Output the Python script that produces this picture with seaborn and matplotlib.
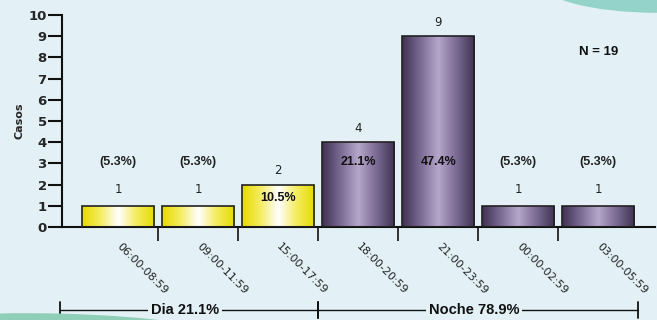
import numpy as np
import pandas as pd
import matplotlib.pyplot as plt
import matplotlib.transforms as mtransforms
from matplotlib.colors import LinearSegmentedColormap
from matplotlib.patches import Ellipse
import seaborn as sns

# Data
periodos = ["06:00-08:59", "09:00-11:59", "15:00-17:59", "18:00-20:59",
            "21:00-23:59", "00:00-02:59", "03:00-05:59"]
casos = [1, 1, 2, 4, 9, 1, 1]
porcentajes = ["(5.3%)", "(5.3%)", "10.5%", "21.1%", "47.4%", "(5.3%)", "(5.3%)"]
turno = ["Dia", "Dia", "Dia", "Noche", "Noche", "Noche", "Noche"]
resumen_turnos = {"Dia": "Dia 21.1%", "Noche": "Noche 78.9%"}
total_n = 19

bg = "#e3f1f7"
df = pd.DataFrame({"periodo": periodos, "casos": casos, "turno": turno})

sns.set_style("white")
plt.rcParams["font.family"] = ["DejaVu Sans"]

fig = plt.figure(figsize=(6.57, 3.2), dpi=100, facecolor=bg)

# decorative swooshes in the background
fig.patches.append(Ellipse((1.0, 1.06), 0.36, 0.2, transform=fig.transFigure,
                           facecolor="#93d3c9", edgecolor="none", zorder=0))
fig.patches.append(Ellipse((0.09, -0.035), 0.48, 0.11, angle=-3, transform=fig.transFigure,
                           facecolor="#8fcfb8", edgecolor="none", zorder=0))

ax = fig.add_axes([0.0944, 0.2906, 0.9026, 0.6624])
ax.set_facecolor("none")

sns.barplot(data=df, x="periodo", y="casos", hue="turno",
            palette={"Dia": "#f0e400", "Noche": "#5a4b70"},
            dodge=False, width=0.9, legend=False, ax=ax,
            edgecolor="#222222", linewidth=1.2)

cmaps = {
    "Dia": LinearSegmentedColormap.from_list("dia", ["#e6da00", "#f4ec60", "#ffffff", "#f4ec60", "#e6da00"]),
    "Noche": LinearSegmentedColormap.from_list("noche", ["#3e3150", "#7a6a92", "#b5a6cb", "#7a6a92", "#3e3150"]),
}
grad = np.linspace(0, 1, 256).reshape(1, -1)

bars = sorted(ax.patches, key=lambda p: p.get_x())
for i, p in enumerate(bars):
    x0, w, h = p.get_x(), p.get_width(), p.get_height()
    im = ax.imshow(grad, extent=[x0, x0 + w, 0, h], aspect="auto",
                   cmap=cmaps[turno[i]], zorder=2, origin="lower")
    im.set_clip_path(p)
    p.set_facecolor("none")
    p.set_zorder(3)

ax.set_xlim(-0.7, 6.71)
ax.set_ylim(0, 10)

# count labels and percentage labels
for i, (c, pct) in enumerate(zip(casos, porcentajes)):
    if c == 1:
        ax.text(i, 1.75, str(c), ha="center", va="center", fontsize=8.5, color="#222222")
        ax.text(i, 3.07, pct, ha="center", va="center", fontsize=9, fontweight="bold",
                family="Liberation Sans", color="#222222")
    else:
        ax.text(i, c + 0.65, str(c), ha="center", va="center", fontsize=8.5, color="#222222")
        ypct = 1.37 if c == 2 else 3.07
        ax.text(i, ypct, pct, ha="center", va="center", fontsize=9, fontweight="bold",
                family="Liberation Sans", color="#111111", zorder=5)

ax.text(6.0, 8.25, f"N = {total_n}", ha="center", va="center", fontsize=9.5,
        fontweight="bold", family="Liberation Sans", color="#111111")

# axes styling
for s in ["top", "right"]:
    ax.spines[s].set_visible(False)
for s in ["left", "bottom"]:
    ax.spines[s].set_linewidth(1.5)
    ax.spines[s].set_color("#111111")

ax.set_yticks(range(0, 11))
ax.tick_params(axis="y", left=True, length=10, width=1.5, pad=1, labelsize=9.5, color="#111111")
for lab in ax.get_yticklabels():
    lab.set_fontweight("bold")
ax.set_ylabel("Casos", fontsize=8, fontweight="bold", labelpad=3)

ax.set_xlabel("")
ax.set_xticks(range(len(periodos)))
ax.set_xticklabels(periodos, rotation=-45, ha="left", va="center",
                   rotation_mode="anchor", fontsize=8, color="#222222")
ax.tick_params(axis="x", bottom=True, length=0, pad=13)
ax.set_xticks(np.arange(0.5, 6.0, 1.0), minor=True)
ax.tick_params(axis="x", which="minor", bottom=True, length=10, width=1.2, color="#111111")

# Dia / Noche brackets below the axis
trans = mtransforms.blended_transform_factory(ax.transData, fig.transFigure)
yb = 1 - 310 / 320
spans = {"Dia": (-0.72, 2.5), "Noche": (2.5, 6.5)}
for key, (a, b) in spans.items():
    ax.plot([a, b], [yb, yb], color="#111111", lw=1, transform=trans, clip_on=False)
    for xe in (a, b):
        ax.plot([xe, xe], [yb - 0.025, yb + 0.025], color="#111111", lw=1.3,
                transform=trans, clip_on=False)
    ax.text((a + b) / 2 - 0.05, yb, resumen_turnos[key], ha="center", va="center",
            fontsize=10.5, fontweight="bold", family="Liberation Sans", color="#111111",
            transform=trans, bbox=dict(facecolor=bg, edgecolor="none", pad=2))

fig.savefig("out.png", dpi=100, facecolor=bg)
